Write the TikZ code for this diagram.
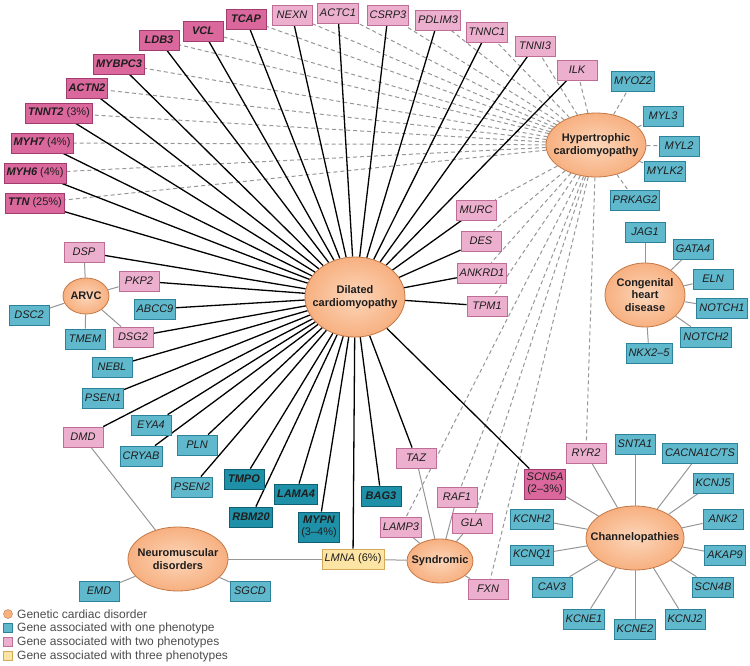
\documentclass[tikz,border=0pt]{standalone}
\usepackage{fontspec}
\setmainfont{Liberation Sans}
\usetikzlibrary{shapes.geometric}
\pgfdeclarelayer{background}
\pgfsetlayers{background,main}
\definecolor{orfill}{RGB}{247,176,128}
\definecolor{orin}{RGB}{252,214,186}
\definecolor{ordraw}{RGB}{196,120,70}
\definecolor{pkA}{RGB}{236,176,206}
\definecolor{pkAd}{RGB}{190,110,150}
\definecolor{pkB}{RGB}{218,104,156}
\definecolor{pkBd}{RGB}{160,60,110}
\definecolor{tlA}{RGB}{96,184,204}
\definecolor{tlAd}{RGB}{45,130,155}
\definecolor{tlB}{RGB}{30,145,168}
\definecolor{tlBd}{RGB}{15,95,115}
\definecolor{yl}{RGB}{252,228,164}
\definecolor{yld}{RGB}{212,170,90}
\definecolor{txt}{RGB}{30,30,30}
\definecolor{lgray}{RGB}{150,150,150}
\tikzset{
  gene/.style={rectangle,draw,line width=0.8pt,minimum width=40pt,minimum height=20pt,inner xsep=2.5pt,inner ysep=1pt,font=\fontsize{11}{12}\selectfont\itshape,text=txt,align=center},
  pinkA/.style={gene,fill=pkA,draw=pkAd},
  pinkB/.style={gene,fill=pkB,draw=pkBd},
  tealA/.style={gene,fill=tlA,draw=tlAd},
  tealB/.style={gene,fill=tlB,draw=tlBd,font=\fontsize{11}{12}\selectfont\itshape\bfseries},
  yellowbox/.style={gene,fill=yl,draw=yld},
  disorder/.style={ellipse,draw=ordraw,line width=0.8pt,inner color=orin,outer color=orfill,inner sep=0pt},
  dlabel/.style={font=\fontsize{11}{12.5}\selectfont\bfseries,text=txt,align=center,inner sep=0pt},
  dcmline/.style={draw=black,line width=1.3pt},
  hcmline/.style={draw=lgray,line width=1pt,dash pattern=on 4pt off 3pt},
  thinline/.style={draw=lgray,line width=1pt},
  legtext/.style={anchor=west,font=\fontsize{12}{13}\selectfont,text=black!70,inner sep=0pt}
}
\begin{document}
\begin{tikzpicture}[x=1pt,y=-1pt]
\useasboundingbox (0,0) rectangle (750,665);
% disorders
\node[disorder,minimum width=100pt,minimum height=80pt] (dcm) at (355,297) {};
\node[dlabel] (dcmt) at (dcm.center) {Dilated\\cardiomyopathy};
\node[disorder,minimum width=100pt,minimum height=64pt] (hcm) at (596,145) {};
\node[dlabel] (hcmt) at (hcm.center) {Hypertrophic\\cardiomyopathy};
\node[disorder,minimum width=46pt,minimum height=36pt] (arvc) at (86,296) {};
\node[dlabel] (arvct) at (arvc.center) {ARVC};
\node[disorder,minimum width=80pt,minimum height=64pt] (chd) at (645,295) {};
\node[dlabel] (chdt) at (chd.center) {Congenital\\heart\\disease};
\node[disorder,minimum width=100pt,minimum height=64pt] (nmd) at (178,559) {};
\node[dlabel] (nmdt) at (nmd.center) {Neuromuscular\\disorders};
\node[disorder,minimum width=66pt,minimum height=44pt] (syn) at (440,561) {};
\node[dlabel] (synt) at (syn.center) {Syndromic};
\node[disorder,minimum width=98pt,minimum height=64pt] (chan) at (635,538) {};
\node[dlabel] (chant) at (chan.center) {Channelopathies};
% top genes dark pink
\node[pinkB] (ttn) at (35,203) {\textbf{TTN} \upshape(25\%)};
\node[pinkB] (myh6) at (35,173) {\textbf{MYH6} \upshape(4\%)};
\node[pinkB] (myh7) at (42,143) {\textbf{MYH7} \upshape(4\%)};
\node[pinkB] (tnnt2) at (59,113) {\textbf{TNNT2} \upshape(3\%)};
\node[pinkB] (actn2) at (87,88) {\textbf{ACTN2}};
\node[pinkB] (mybpc3) at (119,64) {\textbf{MYBPC3}};
\node[pinkB] (ldb3) at (159,40) {\textbf{LDB3}};
\node[pinkB] (vcl) at (203,31) {\textbf{VCL}};
\node[pinkB] (tcap) at (246,19) {\textbf{TCAP}};
% light pink
\node[pinkA] (nexn) at (292,15) {NEXN};
\node[pinkA] (actc1) at (338,13) {ACTC1};
\node[pinkA] (csrp3) at (388,15) {CSRP3};
\node[pinkA] (pdlim3) at (438,20) {PDLIM3};
\node[pinkA] (tnnc1) at (487,32) {TNNC1};
\node[pinkA] (tnni3) at (535,46) {TNNI3};
\node[pinkA] (ilk) at (577,70) {ILK};
\node[pinkA] (murc) at (476,210) {MURC};
\node[pinkA] (des) at (481,241) {DES};
\node[pinkA] (ankrd1) at (482,273) {ANKRD1};
\node[pinkA] (tpm1) at (487,306) {TPM1};
\node[pinkA] (dsp) at (84,252) {DSP};
\node[pinkA] (pkp2) at (139,281) {PKP2};
\node[pinkA] (dsg2) at (133,337) {DSG2};
\node[pinkA] (dmd) at (83,437) {DMD};
\node[pinkA] (taz) at (416,458) {TAZ};
\node[pinkA] (raf1) at (457,497) {RAF1};
\node[pinkA] (lamp3) at (401,527) {LAMP3};
\node[pinkA] (gla) at (472,523) {GLA};
\node[pinkA] (fxn) at (488,589) {FXN};
\node[pinkA] (ryr2) at (586,453) {RYR2};
\node[pinkB,minimum height=30pt] (scn5a) at (545,484) {SCN5A\\\upshape(2--3\%)};
% teal
\node[tealA] (myoz2) at (633,81) {MYOZ2};
\node[tealA] (myl3) at (663,116) {MYL3};
\node[tealA] (myl2) at (679,146) {MYL2};
\node[tealA] (mylk2) at (665,171) {MYLK2};
\node[tealA] (prkag2) at (635,200) {PRKAG2};
\node[tealA] (jag1) at (645,232) {JAG1};
\node[tealA] (gata4) at (693,249) {GATA4};
\node[tealA] (eln) at (713,279) {ELN};
\node[tealA] (notch1) at (722,308) {NOTCH1};
\node[tealA] (notch2) at (706,337) {NOTCH2};
\node[tealA] (nkx) at (649,353) {NKX2--5};
\node[tealA] (dsc2) at (29,315) {DSC2};
\node[tealA] (abcc9) at (155,309) {ABCC9};
\node[tealA] (tmem) at (85,339) {TMEM};
\node[tealA] (nebl) at (112,367) {NEBL};
\node[tealA] (psen1) at (103,398) {PSEN1};
\node[tealA] (eya4) at (151,425) {EYA4};
\node[tealA] (cryab) at (141,456) {CRYAB};
\node[tealA] (pln) at (197,445) {PLN};
\node[tealA] (psen2) at (192,487) {PSEN2};
\node[tealA] (emd) at (99,591) {EMD};
\node[tealA] (sgcd) at (250,591) {SGCD};
\node[tealA] (snta1) at (635,444) {SNTA1};
\node[tealA] (cacna) at (700,453) {CACNA1C/TS};
\node[tealA] (kcnj5) at (713,483) {KCNJ5};
\node[tealA] (kcnh2) at (532,519) {KCNH2};
\node[tealA] (ank2) at (723,519) {ANK2};
\node[tealA] (kcnq1) at (532,555) {KCNQ1};
\node[tealA] (akap9) at (725,555) {AKAP9};
\node[tealA] (cav3) at (552,587) {CAV3};
\node[tealA] (scn4b) at (713,587) {SCN4B};
\node[tealA] (kcne1) at (584,619) {KCNE1};
\node[tealA] (kcne2) at (635,629) {KCNE2};
\node[tealA] (kcnj2) at (685,619) {KCNJ2};
% dark teal
\node[tealB] (tmpo) at (244,479) {TMPO};
\node[tealB] (lama4) at (296,494) {LAMA4};
\node[tealB] (rbm20) at (251,517) {RBM20};
\node[tealB,minimum height=30pt] (mypn) at (319,527) {MYPN\\\upshape\mdseries(3--4\%)};
\node[tealB] (bag3) at (381,496) {BAG3};
% yellow
\node[yellowbox] (lmna) at (353,559) {LMNA \upshape(6\%)};
% connectors
\begin{pgfonlayer}{background}
\foreach \g in {ttn,myh6,myh7,tnnt2,actn2,mybpc3,ldb3,vcl,tcap,nexn,actc1,csrp3,pdlim3,tnnc1,tnni3,ilk,murc,des,ankrd1,tpm1,lamp3,raf1,gla,fxn,ryr2,myoz2,myl3,myl2,mylk2,prkag2}
  \draw[hcmline] (hcm) -- (\g);
\foreach \g in {ttn,myh6,myh7,tnnt2,actn2,mybpc3,ldb3,vcl,tcap,nexn,actc1,csrp3,pdlim3,tnnc1,tnni3,ilk,murc,des,ankrd1,tpm1,dsp,pkp2,abcc9,dsg2,nebl,psen1,dmd,eya4,cryab,pln,psen2,tmpo,rbm20,lama4,mypn,lmna,bag3,taz,scn5a}
  \draw[dcmline] (dcm) -- (\g);
\foreach \g in {dsp,pkp2,dsc2,tmem,dsg2}
  \draw[thinline] (arvc) -- (\g);
\foreach \g in {jag1,gata4,eln,notch1,notch2,nkx}
  \draw[thinline] (chd) -- (\g);
\foreach \g in {dmd,emd,sgcd,lmna}
  \draw[thinline] (nmd) -- (\g);
\foreach \g in {lmna,taz,raf1,lamp3,gla,fxn}
  \draw[thinline] (syn) -- (\g);
\foreach \g in {ryr2,snta1,cacna,kcnj5,ank2,akap9,scn4b,kcnj2,kcne2,kcne1,cav3,kcnq1,kcnh2,scn5a}
  \draw[thinline] (chan) -- (\g);
\end{pgfonlayer}
% legend
\node[circle,draw=ordraw,fill=orfill,minimum size=9pt,inner sep=0pt] (lg1) at (8,614) {};
\node[rectangle,draw=tlAd,fill=tlA,minimum size=9pt,inner sep=0pt] (lg2) at (8,628) {};
\node[rectangle,draw=pkAd,fill=pkA,minimum size=9pt,inner sep=0pt] (lg3) at (8,642) {};
\node[rectangle,draw=yld,fill=yl,minimum size=9pt,inner sep=0pt] (lg4) at (8,656) {};
\node[legtext] (lt1) at (17,614) {Genetic cardiac disorder};
\node[legtext] (lt2) at (17,628) {Gene associated with one phenotype};
\node[legtext] (lt3) at (17,642) {Gene associated with two phenotypes};
\node[legtext] (lt4) at (17,656) {Gene associated with three phenotypes};
\end{tikzpicture}
\end{document}
